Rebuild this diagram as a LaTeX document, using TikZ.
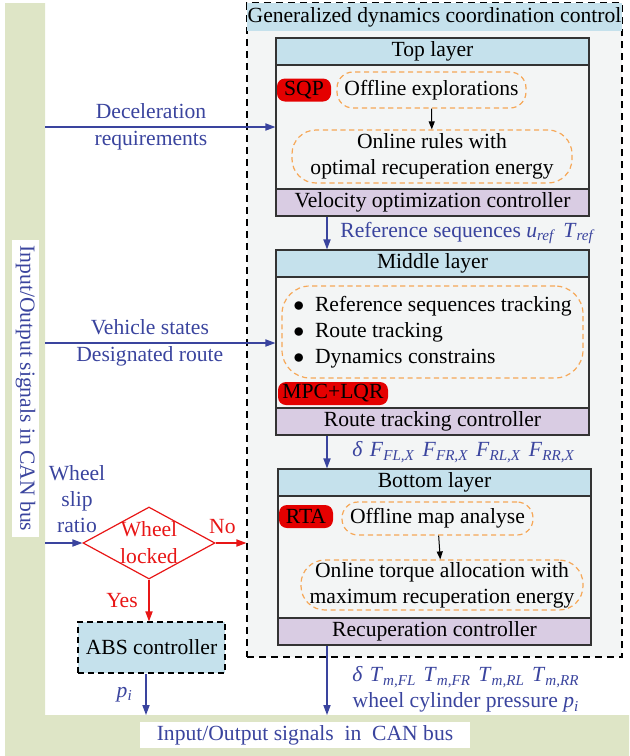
\documentclass[tikz,border=0pt]{standalone}
\usepackage{fontspec}
\setmainfont{Liberation Serif}
\usetikzlibrary{arrows.meta, shapes.geometric}

\definecolor{sigblue}{RGB}{58,68,158}
\definecolor{lockred}{RGB}{232,22,22}
\definecolor{tagred}{RGB}{228,0,0}
\definecolor{dashorange}{RGB}{246,168,88}
\definecolor{headblue}{RGB}{197,225,236}
\definecolor{footpurple}{RGB}{217,204,227}
\definecolor{panelgray}{RGB}{243,245,245}
\definecolor{busgreen}{RGB}{222,229,198}

\newcommand{\vsub}[2]{\textit{#1}\textsubscript{\textit{#2}}}
\newcommand{\gap}{\hspace{3.6pt}}

\tikzset{
    layerframe/.style={draw=black!80, line width=0.6pt, fill=panelgray, inner sep=0, minimum width=156.5pt},
    headband/.style={draw=black!80, line width=0.6pt, fill=headblue, inner sep=0, minimum width=156.5pt, minimum height=13.5pt},
    footband/.style={headband, fill=footpurple},
    tag/.style={fill=tagred, text=black, rounded corners=4pt, inner sep=0, minimum height=11.5pt},
    idea/.style={draw=dashorange, dash pattern=on 2.6pt off 1.8pt, line width=0.6pt, rounded corners=8pt, align=center, inner sep=0},
    sig/.style={draw=sigblue, line width=0.6pt, -{Triangle[length=5pt,width=3.6pt]}},
    lockarrow/.style={sig, draw=lockred},
    sigtext/.style={text=sigblue, align=center, inner sep=1pt}
}

\begin{document}
\begin{tikzpicture}[x=0.5pt, y=-0.5pt, font=\fontsize{10.8}{13}\selectfont]
    \useasboundingbox (0,0) rectangle (629,756);

    % CAN bus (green L)
    \fill[busgreen] (5,3) -- (45,3) -- (45,715) -- (629,715) -- (629,756) -- (5,756) -- cycle;
    \node[fill=white, text=sigblue, rotate=-90, inner sep=0, minimum width=148.5pt, minimum height=13.5pt]
        (busleft) at (25.5,388.5) {Input/Output signals in CAN bus};
    \node[fill=white, text=sigblue, inner sep=0, minimum width=165pt, minimum height=13pt]
        (busbottom) at (305,735) {Input/Output signals\ \ in\ \ CAN bus};

    % Generalized dynamics coordination control
    \node[draw, dash pattern=on 3.5pt off 2.5pt, line width=0.6pt, fill=panelgray, inner sep=0,
        minimum width=187.5pt, minimum height=327pt] (panel) at (434.5,330) {};
    \node[fill=headblue, inner sep=0, minimum width=187.5pt, minimum height=14pt]
        (title) at (434.5,17) {Generalized dynamics coordination control};

    % Top layer
    \node[layerframe, minimum height=89pt] (toplay) at (432.5,127) {};
    \node[headband] (tophead) at (432.5,51.5) {Top layer};
    \node[footband] (topfoot) at (432.5,202.5) {Velocity optimization controller};
    \node[tag, minimum width=27pt] (sqp) at (304,90) {SQP};
    \node[idea, minimum width=94.5pt, minimum height=18pt] (offexp) at (431.5,90) {Offline explorations};
    \node[idea, rounded corners=12pt, minimum width=140pt, minimum height=26.5pt]
        (onrule) at (432,156.5) {Online rules with\\optimal recuperation energy};
    \draw[-{Triangle[length=4pt,width=3pt]}, line width=0.5pt] (offexp) -- (onrule);

    % Middle layer
    \node[layerframe, minimum height=92.5pt] (midlay) at (432.5,342.5) {};
    \node[headband] (midhead) at (432.5,263.5) {Middle layer};
    \node[footband] (midfoot) at (432.5,421.5) {Route tracking controller};
    \node[idea, rounded corners=14pt, align=left, minimum width=150.5pt, minimum height=46pt]
        (trklist) at (432.5,332) {$\bullet$\ \ Reference sequences tracking\\
        $\bullet$\ \ Route tracking\\ $\bullet$\ \ Dynamics constrains};
    \node[tag, minimum width=55pt] (mpc) at (333,393.5) {MPC+LQR};

    % Bottom layer
    \node[layerframe, minimum height=88pt] (botlay) at (434.5,557) {};
    \node[headband] (bothead) at (434.5,482.5) {Bottom layer};
    \node[footband] (botfoot) at (434.5,631.5) {Recuperation controller};
    \node[tag, minimum width=27pt] (rta) at (306,516.5) {RTA};
    \node[idea, minimum width=95.5pt, minimum height=16.5pt] (offmap) at (437.5,518.5) {Offline map analyse};
    \node[idea, rounded corners=12pt, minimum width=141pt, minimum height=25pt]
        (ontorque) at (442,585) {Online torque allocation with\\maximum recuperation energy};
    \draw[-{Triangle[length=4pt,width=3pt]}, line width=0.5pt] (offmap) -- (ontorque);

    % Between layers
    \coordinate (spine) at (327,0);
    \draw[sig] (topfoot.south -| spine) -- (midhead.north -| spine);
    \node[sigtext, anchor=west] at (338,233) {Reference sequences \vsub{u}{ref}\gap\vsub{T}{ref}};
    \draw[sig] (midfoot.south -| spine) -- (bothead.north -| spine);
    \node[sigtext, anchor=west] at (350,452)
        {\textit{δ}\gap\vsub{F}{FL,X}\gap\vsub{F}{FR,X}\gap\vsub{F}{RL,X}\gap\vsub{F}{RR,X}};
    \coordinate (busout) at (327,715);
    \draw[sig] (botfoot.south -| spine) -- (busout);
    \node[sigtext] at (466,689.5)
        {\textit{δ}\gap\vsub{T}{m,FL}\gap\vsub{T}{m,FR}\gap\vsub{T}{m,RL}\gap\vsub{T}{m,RR}\\
        wheel cylinder pressure \vsub{p}{i}};

    % Inputs from CAN bus
    \coordinate (busdec) at (45,127);
    \draw[sig] (busdec) -- (toplay.west) node[sigtext, pos=0.46] {Deceleration\\[0.5pt]requirements};
    \coordinate (busveh) at (45,343);
    \draw[sig] (busveh) -- (busveh -| midlay.west) node[sigtext, pos=0.455] {Vehicle states\\[0.5pt]Designated route};

    % Wheel locked decision
    \node[shape=diamond, draw=lockred, line width=0.6pt, inner sep=0, minimum width=66pt, minimum height=36pt]
        (locked) at (149,543) {};
    \node[text=lockred, align=center, inner sep=0] at (locked) {Wheel\\[0.5pt]locked};
    \coordinate (busslip) at (45,543);
    \draw[sig] (busslip) -- (locked.west);
    \node[sigtext] at (77,499) {Wheel\\slip\\ratio};
    \draw[lockarrow] (locked.east) -- (locked.east -| panel.west) node[pos=0.22, above=1pt, text=lockred] {No};

    % ABS controller
    \node[draw, dash pattern=on 3pt off 2pt, line width=0.6pt, fill=headblue, inner sep=0,
        minimum width=73.5pt, minimum height=25.5pt] (abs) at (151.5,647.5) {ABS controller};
    \draw[lockarrow] (locked.south) -- (locked.south |- abs.north) node[midway, left=2pt, text=lockred] {Yes};
    \coordinate (busabs) at (146,715);
    \draw[sig] (abs.south -| busabs) -- (busabs) node[midway, left=3pt, text=sigblue] {\vsub{p}{i}};
\end{tikzpicture}
\end{document}
